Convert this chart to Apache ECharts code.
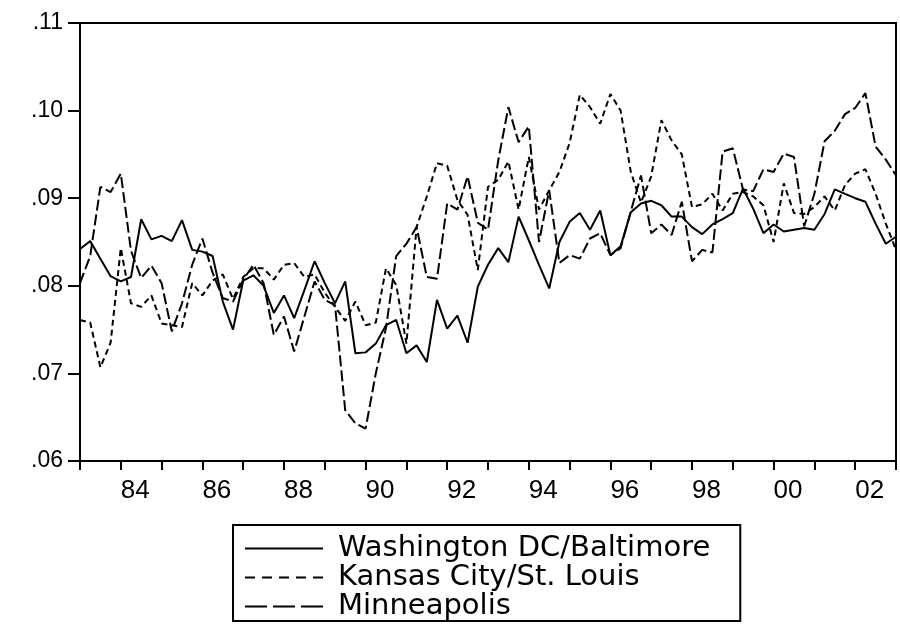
<!DOCTYPE html>
<html>
<head>
<meta charset="utf-8">
<title>Regional series 1983-2003</title>
<script src="https://cdn.jsdelivr.net/npm/echarts@6.0.0/dist/echarts.min.js"></script>
<style>
  html, body { margin: 0; padding: 0; background: #fff; }
  #chart { width: 900px; height: 624px; }
</style>
</head>
<body>
<div id="chart"></div>
<script>
// 季度 1983Q1 - 2003Q1
var quarters = [
  '1983Q1','1983Q2','1983Q3','1983Q4','1984Q1','1984Q2','1984Q3','1984Q4',
  '1985Q1','1985Q2','1985Q3','1985Q4','1986Q1','1986Q2','1986Q3','1986Q4',
  '1987Q1','1987Q2','1987Q3','1987Q4','1988Q1','1988Q2','1988Q3','1988Q4',
  '1989Q1','1989Q2','1989Q3','1989Q4','1990Q1','1990Q2','1990Q3','1990Q4',
  '1991Q1','1991Q2','1991Q3','1991Q4','1992Q1','1992Q2','1992Q3','1992Q4',
  '1993Q1','1993Q2','1993Q3','1993Q4','1994Q1','1994Q2','1994Q3','1994Q4',
  '1995Q1','1995Q2','1995Q3','1995Q4','1996Q1','1996Q2','1996Q3','1996Q4',
  '1997Q1','1997Q2','1997Q3','1997Q4','1998Q1','1998Q2','1998Q3','1998Q4',
  '1999Q1','1999Q2','1999Q3','1999Q4','2000Q1','2000Q2','2000Q3','2000Q4',
  '2001Q1','2001Q2','2001Q3','2001Q4','2002Q1','2002Q2','2002Q3','2002Q4',
  '2003Q1'
]

var washington = [
  0.0842, 0.0851, 0.0831, 0.0811, 0.0805, 0.0810, 0.0876, 0.0853, 0.0857, 0.0851,
  0.0875, 0.0841, 0.0839, 0.0834, 0.0782, 0.0750, 0.0806, 0.0812, 0.0800, 0.0769,
  0.0789, 0.0763, 0.0795, 0.0828, 0.0803, 0.0780, 0.0805, 0.0723, 0.0724, 0.0734,
  0.0755, 0.0761, 0.0723, 0.0732, 0.0713, 0.0784, 0.0751, 0.0766, 0.0735, 0.0799,
  0.0824, 0.0843, 0.0827, 0.0879, 0.0852, 0.0824, 0.0797, 0.0850, 0.0873, 0.0883,
  0.0864, 0.0886, 0.0835, 0.0845, 0.0884, 0.0894, 0.0897, 0.0892, 0.0879, 0.0879,
  0.0867, 0.0859, 0.0870, 0.0876, 0.0883, 0.0911, 0.0888, 0.0860, 0.0870, 0.0862,
  0.0864, 0.0866, 0.0864, 0.0882, 0.0910, 0.0905, 0.0900, 0.0896, 0.0871, 0.0848,
  0.0856
]

var kansas = [
  0.0761, 0.0758, 0.0707, 0.0735, 0.0843, 0.0780, 0.0776, 0.0789, 0.0757, 0.0755,
  0.0753, 0.0803, 0.0789, 0.0806, 0.0813, 0.0785, 0.0810, 0.0820, 0.0820, 0.0807,
  0.0824, 0.0826, 0.0810, 0.0813, 0.0792, 0.0776, 0.0760, 0.0782, 0.0755, 0.0758,
  0.0820, 0.0801, 0.0734, 0.0867, 0.0902, 0.0940, 0.0937, 0.0898, 0.0881, 0.0818,
  0.0913, 0.0921, 0.0942, 0.0887, 0.0947, 0.0887, 0.0909, 0.0930, 0.0963, 0.1018,
  0.1004, 0.0985, 0.1019, 0.1000, 0.0930, 0.0895, 0.0925, 0.0989, 0.0966, 0.0950,
  0.0890, 0.0893, 0.0905, 0.0886, 0.0905, 0.0907, 0.0902, 0.0892, 0.0850, 0.0917,
  0.0883, 0.0882, 0.0890, 0.0902, 0.0886, 0.0915, 0.0928, 0.0933, 0.0905, 0.0871,
  0.0841
]

var minneapolis = [
  0.0803, 0.0834, 0.0913, 0.0907, 0.0928, 0.0840, 0.0809, 0.0823, 0.0803, 0.0748,
  0.0780, 0.0824, 0.0854, 0.0815, 0.0786, 0.0782, 0.0807, 0.0824, 0.0803, 0.0744,
  0.0765, 0.0725, 0.0765, 0.0805, 0.0784, 0.0778, 0.0658, 0.0643, 0.0637, 0.0700,
  0.0752, 0.0834, 0.0848, 0.0867, 0.0810, 0.0808, 0.0894, 0.0887, 0.0925, 0.0872,
  0.0864, 0.0943, 0.1004, 0.0964, 0.0982, 0.0850, 0.0909, 0.0826, 0.0835, 0.0831,
  0.0854, 0.0860, 0.0835, 0.0843, 0.0885, 0.0926, 0.0860, 0.0870, 0.0858, 0.0896,
  0.0828, 0.0841, 0.0838, 0.0953, 0.0957, 0.0910, 0.0908, 0.0933, 0.0930, 0.0951,
  0.0947, 0.0868, 0.0905, 0.0965, 0.0977, 0.0996, 0.1003, 0.1020, 0.0959, 0.0944,
  0.0926
]

var seriesNames = ['Washington DC/Baltimore', 'Kansas City/St. Louis', 'Minneapolis']
var yTickLabels = ['.06', '.07', '.08', '.09', '.10', '.11']
var xLabelYears = ['84', '86', '88', '90', '92', '94', '96', '98', '00', '02']

// 图例里的线型（实线 / 短虚线 / 长虚线）
var legendIcons = [
  'path://M0,0h78v2h-78z',
  'path://M0,0h10v2h-10zM17,0h10v2h-10zM34,0h10v2h-10zM51,0h10v2h-10zM68,0h10v2h-10z',
  'path://M0,0h22v2h-22zM28,0h22v2h-22zM56,0h22v2h-22z'
]

var chart = echarts.init(document.getElementById('chart'))

var option = {
  animation: false,
  backgroundColor: '#fff',
  grid: {
    left: 80,
    right: 4,
    top: 23,
    bottom: 163,
    show: true,
    borderColor: '#000',
    borderWidth: 2,
    backgroundColor: 'transparent'
  },
  xAxis: {
    type: 'category',
    data: quarters,
    boundaryGap: false,
    axisLine: { lineStyle: { color: '#000', width: 2 } },
    axisTick: {
      show: true,
      length: 9,
      lineStyle: { color: '#000', width: 2 },
      interval: function (index) { return index % 4 === 0 }
    },
    axisLabel: {
      interval: function (index, value) {
        return xLabelYears.indexOf(value.slice(2, 4)) >= 0 && value.slice(4) === 'Q1'
      },
      formatter: function (value) { return value.slice(2, 4) },
      align: 'left',
      margin: 17,
      color: '#000',
      fontFamily: '"Liberation Sans", Arial, sans-serif',
      fontSize: 26
    },
    splitLine: { show: false }
  },
  yAxis: {
    type: 'value',
    min: 0.06,
    max: 0.11,
    interval: 0.01,
    axisLine: { show: true, lineStyle: { color: '#000', width: 2 } },
    axisTick: { show: true, length: 12, lineStyle: { color: '#000', width: 2 } },
    axisLabel: {
      margin: 17,
      color: '#000',
      fontFamily: '"Liberation Sans", Arial, sans-serif',
      fontSize: 23,
      formatter: function (v) {
        return yTickLabels[Math.round((v - 0.06) * 100)]
      }
    },
    splitLine: { show: false }
  },
  legend: {
    show: true,
    orient: 'vertical',
    left: 233,
    top: 525,
    height: 200,
    padding: [9, 30, 0, 12],
    itemGap: 0,
    itemWidth: 78,
    itemHeight: 2,
    borderColor: '#000',
    borderWidth: 2,
    borderRadius: 0,
    backgroundColor: '#fff',
    textStyle: {
      color: '#000',
      fontFamily: '"DejaVu Sans", sans-serif',
      fontSize: 29,
      lineHeight: 29,
      padding: [0, 0, 0, 10]
    },
    data: [
      { name: seriesNames[0], icon: legendIcons[0] },
      { name: seriesNames[1], icon: legendIcons[1] },
      { name: seriesNames[2], icon: legendIcons[2] }
    ]
  },
  series: [
    {
      name: seriesNames[0],
      type: 'line',
      data: washington,
      symbol: 'none',
      color: '#000',
      lineStyle: { color: '#000', width: 2, type: 'solid' }
    },
    {
      name: seriesNames[1],
      type: 'line',
      data: kansas,
      symbol: 'none',
      color: '#000',
      lineStyle: { color: '#000', width: 2, type: [6, 4] }
    },
    {
      name: seriesNames[2],
      type: 'line',
      data: minneapolis,
      symbol: 'none',
      color: '#000',
      lineStyle: { color: '#000', width: 2, type: [11, 4] }
    }
  ]
}

chart.setOption(option)
</script>
</body>
</html>
